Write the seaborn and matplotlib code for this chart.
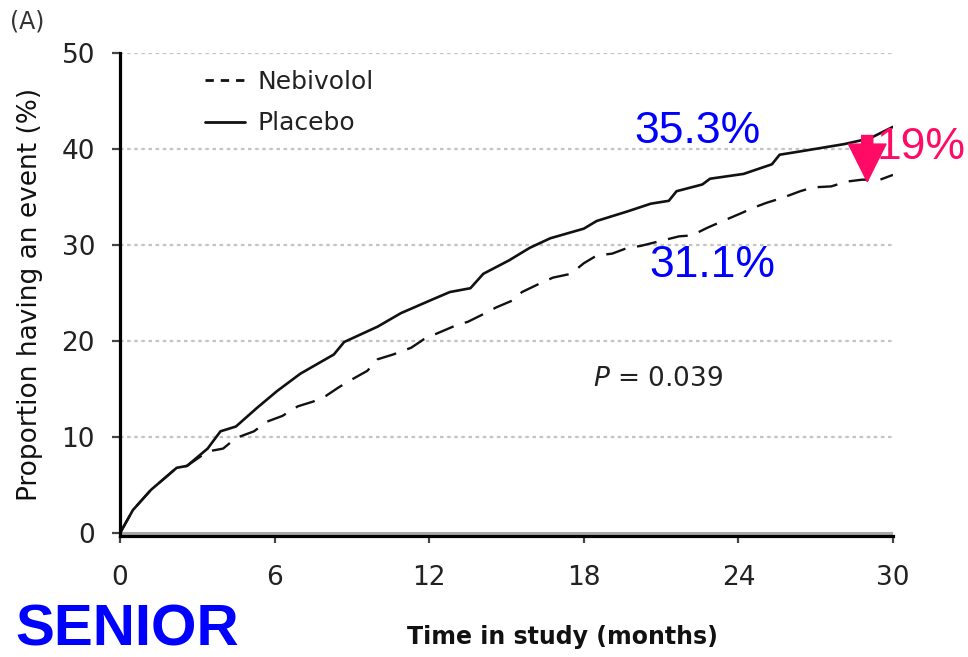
import matplotlib
matplotlib.use("Agg")
import matplotlib.pyplot as plt
import seaborn as sns
import pandas as pd
from matplotlib.lines import Line2D

# ---- data ----
placebo_t = [0, 0.5, 1.2, 2.2, 2.6, 3.4, 3.9, 4.5, 5.3, 6.1, 7.0, 8.3, 8.7, 10.0, 10.9,
             12.1, 12.8, 13.6, 14.1, 15.1, 15.9, 16.7, 18.0, 18.5, 19.7, 20.6, 21.3,
             21.6, 22.6, 22.9, 24.2, 25.3, 25.6, 26.3, 28.1, 29.1, 30.0]
placebo_v = [0, 2.4, 4.5, 6.8, 7.0, 8.8, 10.6, 11.1, 13.0, 14.8, 16.6, 18.6, 19.9, 21.5, 22.9,
             24.3, 25.1, 25.5, 27.0, 28.4, 29.7, 30.7, 31.7, 32.5, 33.5, 34.3, 34.6,
             35.6, 36.3, 36.9, 37.4, 38.4, 39.4, 39.7, 40.5, 41.1, 42.3]

nebivolol_t = [0, 0.5, 1.2, 2.2, 2.6, 3.4, 4.0, 4.5, 5.2, 5.7, 6.3, 6.9, 7.5, 8.0, 8.5, 9.0,
               9.6, 10.0, 10.6, 11.3, 11.8, 12.4, 13.1, 13.5, 14.1, 14.6, 15.3, 15.6, 16.3,
               16.8, 17.5, 18.0, 18.5, 19.1, 19.7, 20.2, 21.1, 21.7, 22.2, 22.8, 23.4, 24.1,
               24.6, 25.1, 25.7, 26.4, 26.9, 27.6, 28.2, 28.8, 29.5, 30.0]
nebivolol_v = [0, 2.4, 4.5, 6.8, 7.0, 8.5, 8.8, 9.9, 10.6, 11.6, 12.2, 13.2, 13.7, 14.3, 15.2, 16.0,
               16.9, 18.1, 18.6, 19.3, 20.2, 20.9, 21.7, 22.0, 22.8, 23.5, 24.3, 25.1, 26.0,
               26.6, 27.0, 28.1, 28.9, 29.1, 29.7, 29.9, 30.5, 30.9, 31.0, 31.8, 32.5, 33.3,
               33.9, 34.4, 34.9, 35.6, 36.0, 36.1, 36.6, 36.8, 36.8, 37.3]

x_ticks = [0, 6, 12, 18, 24, 30]
y_ticks = [0, 10, 20, 30, 40, 50]
series_labels = ["Nebivolol", "Placebo"]
placebo_pct = "35.3%"
nebivolol_pct = "31.1%"
reduction_txt = "19%"
p_text = r"$\it{P}$ = 0.039"
panel_label = "(A)"
study_name = "SENIOR"
x_label = "Time in study (months)"
y_label = "Proportion having an event (%)"

sns.set_theme(style="white")
plt.rcParams["font.family"] = ["DejaVu Sans"]

fig = plt.figure(figsize=(9.68, 6.57), dpi=100)
ax = fig.add_axes([120 / 968, (657 - 536) / 657, (893 - 120) / 968, (536 - 50) / 657 * 50 / 50.3])

sns.lineplot(x=placebo_t, y=placebo_v, color="#111111", lw=1.9, estimator=None, sort=False, ax=ax)
sns.lineplot(x=nebivolol_t, y=nebivolol_v, color="#111111", lw=1.7, estimator=None, sort=False, ax=ax)
ax.lines[-1].set_dashes((8.5, 5.0))

ax.set_xlim(0, 30)
ax.set_ylim(-0.3, 50)
ax.set_xticks(x_ticks)
ax.set_yticks(y_ticks)
ax.set_xticklabels([str(v) for v in x_ticks])
ax.set_yticklabels([str(v) for v in y_ticks])

# grid
for yv in y_ticks[1:]:
    ax.axhline(yv, color="#c4c4c4", lw=1.6, ls=(0, (1.6, 1.6)), zorder=1)
ax.axhline(0, color="#a8a8a8", lw=2.2, zorder=1)

for side in ["top", "right"]:
    ax.spines[side].set_visible(False)
for side in ["left", "bottom"]:
    ax.spines[side].set_color("black")
    ax.spines[side].set_linewidth(2.3)

ax.tick_params(axis="x", direction="out", length=5, width=1.6, color="#444444",
               labelsize=19, labelcolor="#222222", pad=16, bottom=True)
ax.tick_params(axis="y", direction="out", length=6, width=1.6, color="#444444",
               labelsize=19, labelcolor="#222222", pad=12, left=True)

ax.set_xlabel(x_label, fontsize=17, fontweight="bold", color="#111111")
ax.xaxis.set_label_coords(0.572, -0.185)
ax.set_ylabel(y_label, fontsize=19, color="#111111")
ax.yaxis.set_label_coords(-0.1, 0.5)

h_n = Line2D([], [], color="#111111", lw=2.0, dashes=(3.0, 2.5))
h_p = Line2D([], [], color="#111111", lw=2.0)
leg = ax.legend(handles=[h_n, h_p], labels=series_labels, loc="upper left",
                bbox_to_anchor=(0.11, 0.965), frameon=False, fontsize=18,
                handlelength=1.6, handletextpad=0.5, labelspacing=0.7,
                borderpad=0, borderaxespad=0)
for t in leg.get_texts():
    t.set_color("#222222")

blue = "#0000ff"
pink = "#ff0a64"
ax.text(22.4, 41.8, placebo_pct, color=blue, fontsize=32, ha="center", va="center",
        family="Liberation Sans")
ax.text(23.0, 27.9, nebivolol_pct, color=blue, fontsize=32, ha="center", va="center",
        family="Liberation Sans")
ax.text(29.35, 40.2, reduction_txt, color=pink, fontsize=32, ha="left", va="center",
        family="Liberation Sans", clip_on=False)
ax.annotate("", xy=(29.0, 36.6), xytext=(29.0, 41.4),
            arrowprops=dict(arrowstyle="simple,head_length=1.35,head_width=1.35,tail_width=0.4",
                            color=pink, shrinkA=0, shrinkB=0, mutation_scale=20),
            zorder=5, annotation_clip=False)
ax.text(18.35, 16.0, p_text, fontsize=19, color="#222222", ha="left", va="center")

fig.text(10 / 968, 1 - 22 / 657, panel_label, fontsize=17, color="#333333", va="center")
fig.text(15 / 968, 0.0, study_name, fontsize=42, fontweight="bold", color=blue,
         family="Liberation Sans", va="bottom", ha="left")

fig.savefig("out.png", dpi=100)
